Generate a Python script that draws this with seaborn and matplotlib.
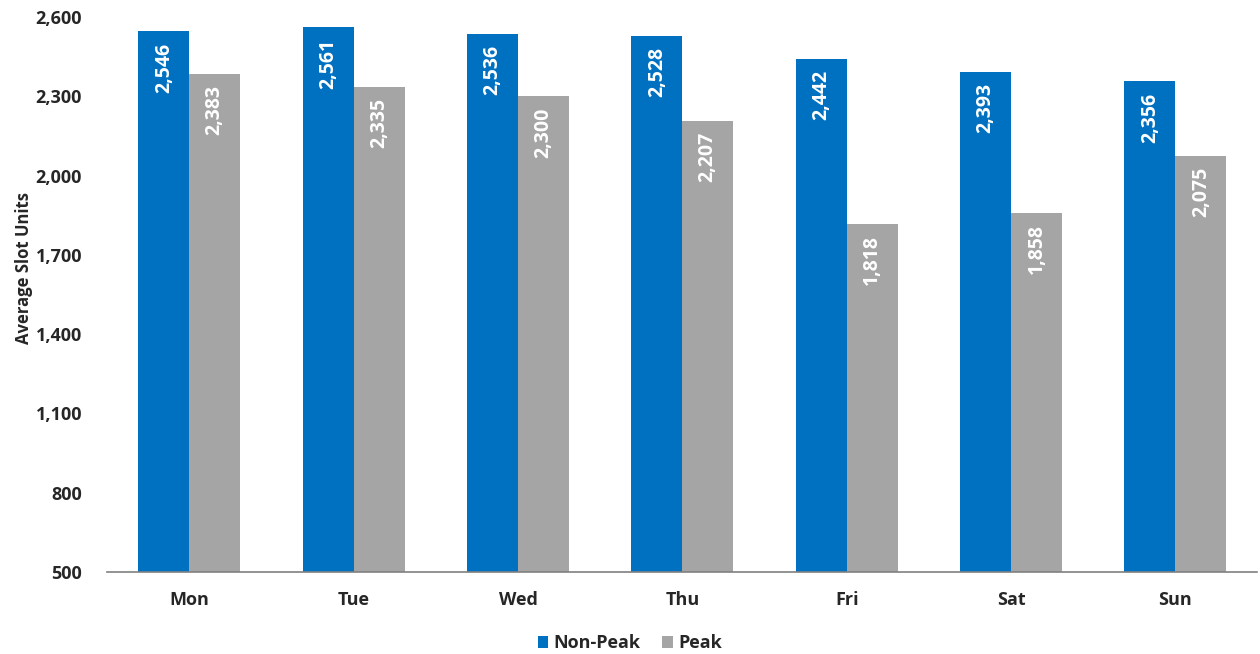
import matplotlib
matplotlib.use("Agg")
import matplotlib.pyplot as plt
import seaborn as sns
import pandas as pd
from matplotlib.ticker import FuncFormatter
from matplotlib.patches import Patch

days = ["Mon", "Tue", "Wed", "Thu", "Fri", "Sat", "Sun"]
non_peak = [2546, 2561, 2536, 2528, 2442, 2393, 2356]
peak = [2383, 2335, 2300, 2207, 1818, 1858, 2075]
series = ["Non-Peak", "Peak"]
colors = ["#0070C0", "#A5A5A5"]
y_ticks = [500, 800, 1100, 1400, 1700, 2000, 2300, 2600]

df = pd.DataFrame({
    "Day": days * 2,
    "Value": non_peak + peak,
    "Series": [series[0]] * len(days) + [series[1]] * len(days),
})

sns.set_theme(style="white")
plt.rcParams["font.family"] = ["Open Sans", "DejaVu Sans"]

fig = plt.figure(figsize=(12.6, 6.54), dpi=100)
ax = fig.add_axes([0.085, 0.1254, 0.913, 0.8486])

sns.barplot(data=df, x="Day", y="Value", hue="Series", order=days,
            hue_order=series, palette=colors, width=0.62, saturation=1,
            linewidth=0, ax=ax, legend=False, errorbar=None)

ax.set_ylim(500, 2600)
ax.set_xlim(-0.5, 6.5)
ax.set_yticks(y_ticks)
ax.yaxis.set_major_formatter(FuncFormatter(lambda v, p: f"{int(v):,}"))
ax.set_xlabel("")
ax.set_ylabel("Average Slot Units", fontsize=12, fontweight="bold")
ax.yaxis.set_label_coords(-0.064, 0.548)
ax.tick_params(axis="both", length=0, labelsize=13)
ax.tick_params(axis="x", pad=14)
ax.tick_params(axis="y", pad=18)
for lbl in ax.get_xticklabels() + ax.get_yticklabels():
    lbl.set_fontweight("bold")

for side in ["top", "right", "left"]:
    ax.spines[side].set_visible(False)
ax.spines["bottom"].set_color("#808080")
ax.spines["bottom"].set_linewidth(1.2)
ax.grid(False)

for container in ax.containers:
    for bar in container:
        h = bar.get_height()
        ax.annotate(f"{h:,.0f}", xy=(bar.get_x() + bar.get_width() / 2, h),
                    xytext=(0, -8), textcoords="offset points",
                    rotation=90, ha="center", va="top", color="white",
                    fontsize=14, fontweight="bold")

handles = [Patch(facecolor=c, edgecolor="none") for c in colors]
fig.legend(handles, series, loc="lower center", bbox_to_anchor=(0.5, -0.022),
           ncol=2, frameon=False, prop={"weight": "bold", "size": 13},
           handlelength=0.6, handleheight=0.6, handletextpad=0.3, columnspacing=1.2)

fig.savefig("out.png", dpi=100)
